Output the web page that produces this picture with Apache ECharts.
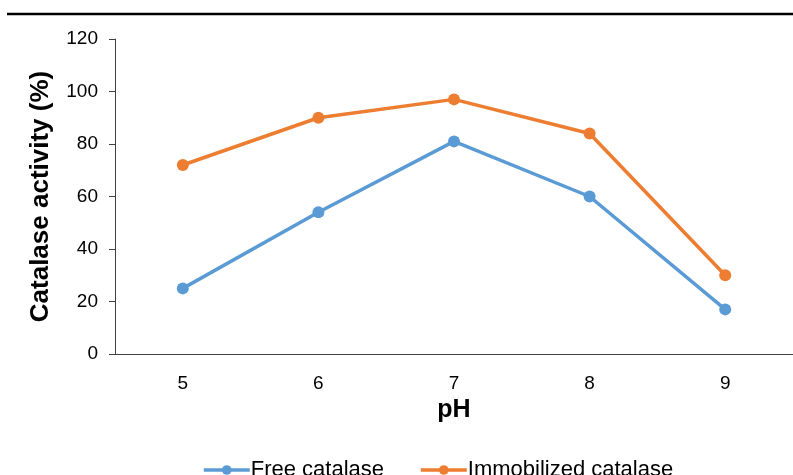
<!DOCTYPE html>
<html><head><meta charset="utf-8">
<script src="https://cdn.jsdelivr.net/npm/echarts@6/dist/echarts.min.js"></script>
<style>html,body{margin:0;padding:0;background:#fff}#c{width:793px;height:475px}</style>
</head><body><div id="c"></div>
<script>
const categories = ['5','6','7','8','9'];
const freeCatalase = [25, 54, 81, 60, 17];
const immobilizedCatalase = [72, 90, 97, 84, 30];
const yTicks = [0, 20, 40, 60, 80, 100, 120];

const chart = echarts.init(document.getElementById('c'));
const font = 'Liberation Sans, Arial, sans-serif';
chart.setOption({
  animation: false,
  graphic: [{type:'line', shape:{x1:7,y1:14,x2:793,y2:14}, style:{stroke:'#000', lineWidth:2.5}}],
  grid: {left:115, right:0, top:39, bottom:121, containLabel:false},
  legend: {
    top: 459, left: 202, padding: 0, itemWidth: 46, itemHeight: 12, itemGap: 35,
    lineStyle: {width: 3.5},
    textStyle: {fontFamily: font, fontSize: 22, color:'#000', padding:[0,0,0,-4]},
    data: ['Free catalase','Immobilized catalase']
  },
  xAxis: {
    type:'category', data: categories, boundaryGap: true,
    name:'pH', nameLocation:'middle', nameGap: 44,
    nameTextStyle:{fontFamily:font, fontSize:25, fontWeight:'bold', color:'#000'},
    axisLine:{lineStyle:{color:'#404040', width:1}},
    axisTick:{alignWithLabel:true, length:5, lineStyle:{color:'#404040'}},
    axisLabel:{fontFamily:font, fontSize:19, color:'#000', margin:20}
  },
  yAxis: {
    type:'value', min: yTicks[0], max: yTicks[yTicks.length-1], interval: 20,
    name:'Catalase activity (%)', nameLocation:'middle', nameGap: 61,
    nameTextStyle:{fontFamily:font, fontSize:26, fontWeight:'bold', color:'#000'},
    axisLine:{show:true, lineStyle:{color:'#404040', width:1}},
    axisTick:{show:true, length:6, lineStyle:{color:'#404040'}},
    axisLabel:{fontFamily:font, fontSize:19, color:'#000', margin:17},
    splitLine:{show:false}
  },
  series: [
    {name:'Free catalase', type:'line', data: freeCatalase, symbol:'circle', symbolSize:12,
     lineStyle:{color:'#5B9BD5', width:3.5}, itemStyle:{color:'#5B9BD5'}},
    {name:'Immobilized catalase', type:'line', data: immobilizedCatalase, symbol:'circle', symbolSize:12,
     lineStyle:{color:'#ED7D31', width:3.5}, itemStyle:{color:'#ED7D31'}}
  ]
});
</script></body></html>
